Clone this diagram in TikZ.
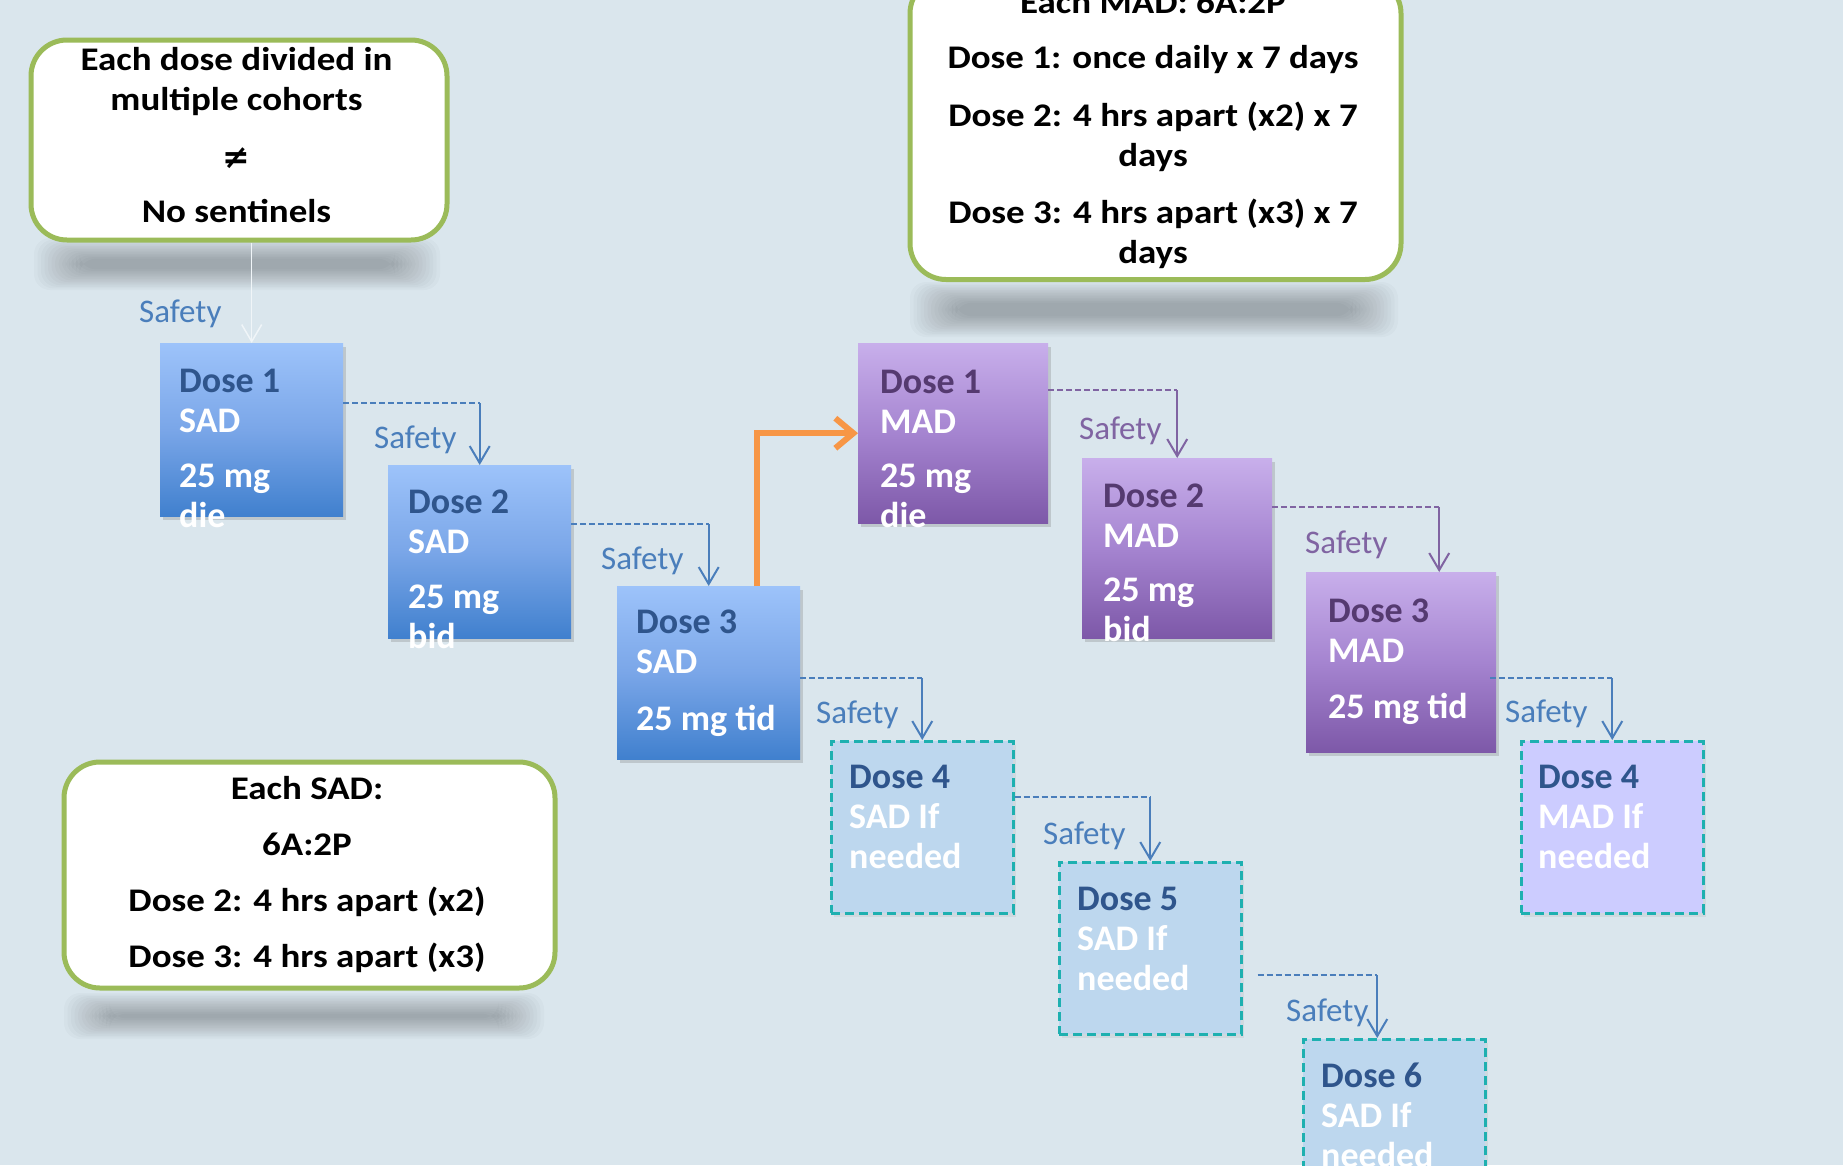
\documentclass[tikz,border=0pt]{standalone}
\usepackage{fontspec}
\setmainfont{Carlito}
\newfontfamily\notefont{Carlito}[FakeStretch=1.12]
\newfontfamily\symbfont{DejaVu Sans}
\usetikzlibrary{arrows.meta,shadows,calc}
\definecolor{bgc}{RGB}{218,230,237}
\definecolor{grn}{RGB}{155,187,89}
\definecolor{sadtop}{RGB}{157,195,250}
\definecolor{sadmid}{RGB}{122,166,232}
\definecolor{sadbot}{RGB}{64,128,206}
\definecolor{madtop}{RGB}{200,175,235}
\definecolor{madmid}{RGB}{165,132,208}
\definecolor{madbot}{RGB}{125,88,168}
\definecolor{sadd}{RGB}{47,85,140}
\definecolor{madd}{RGB}{85,58,112}
\definecolor{linkb}{RGB}{74,126,187}
\definecolor{linkp}{RGB}{128,100,162}
\definecolor{tealb}{RGB}{30,176,176}
\definecolor{ifsad}{RGB}{189,215,238}
\definecolor{ifmad}{RGB}{204,204,255}
\definecolor{orng}{RGB}{247,150,70}
\newcommand\nls{\baselineskip=40pt\lineskiplimit=-200pt\lineskip=0pt}
\newcommand\dl[1]{\hbox{#1}}
\newcommand\cln[1]{\hbox to 0pt{\hss#1\hss}}
\newcommand\notesh[4]{%
  \foreach \i in {0,...,13}
    \fill[black,opacity=0.018,rounded corners=16pt]
      ({#1-8+3.5*\i},{#2-5+1.6*\i}) rectangle ({#3+8-3.5*\i},{#4+5-1.6*\i});}
\tikzset{
  sadbox/.style={rectangle,anchor=north west,minimum width=183pt,minimum height=173pt,inner sep=0pt,
    top color=sadtop,bottom color=sadbot,middle color=sadmid,
    drop shadow={shadow xshift=3pt,shadow yshift=-4pt,opacity=.3}},
  madbox/.style={rectangle,anchor=north west,minimum width=190pt,minimum height=180pt,inner sep=0pt,
    top color=madtop,bottom color=madbot,middle color=madmid,
    drop shadow={shadow xshift=3pt,shadow yshift=-4pt,opacity=.3}},
  ifbox/.style={rectangle,anchor=north west,minimum width=182pt,minimum height=172pt,inner sep=0pt,
    draw=tealb,line width=2.5pt,dash pattern=on 9pt off 5pt,
    drop shadow={shadow xshift=3pt,shadow yshift=-4pt,opacity=.12}},
  sadif/.style={ifbox,fill=ifsad},
  madif/.style={ifbox,fill=ifmad},
  notebox/.style={rectangle,rounded corners=36pt,draw=grn,line width=5pt,fill=white,anchor=north west,inner sep=0pt},
  dtxt/.style={anchor=base west,inner sep=0pt,text=white,font=\fontsize{36}{40}\selectfont\bfseries},
  ntxt/.style={anchor=base,inner sep=0pt,text=black,font=\notefont\fontsize{33}{40}\selectfont\bfseries},
  safe/.style={anchor=base west,inner sep=0pt,font=\fontsize{33}{40}\selectfont},
  ldash/.style={line width=2pt,dash pattern=on 6pt off 3pt},
  larrow/.style={line width=2pt,-{Straight Barb[length=17pt,width=20pt]}},
}
\begin{document}
\begin{tikzpicture}[x=1pt,y=-1pt]
\useasboundingbox (0,0) rectangle (1843,1165);
\clip (0,0) rectangle (1843,1165);
\fill[bgc] (0,0) rectangle (1843,1165);

% note shadows
\notesh{42}{243}{432}{285}
\notesh{918}{287}{1390}{332}
\notesh{72}{998}{536}{1034}

% notes
\node[notebox,minimum width=416pt,minimum height=200pt] (n1) at (28.5,37.5) {};
\node[notebox,minimum width=491pt,minimum height=302pt] (n2) at (907.5,-25) {};
\node[notebox,minimum width=491pt,minimum height=226pt] (n3) at (61.5,759.5) {};

\node[ntxt] (tn1) at (236.5,70) {\vtop{\nls\cln{Each dose divided in}\cln{multiple cohorts}\vskip18pt\cln{\symbfont ≠}\vskip14pt\cln{No sentinels}}};
\node[ntxt] (tn2) at (1153,13) {\vtop{\nls\cln{Each MAD: 6A:2P}\vskip15pt\cln{Dose 1: once daily x 7 days}\vskip18pt\cln{Dose 2: 4 hrs apart (x2) x 7}\cln{days}\vskip17pt\cln{Dose 3: 4 hrs apart (x3) x 7}\cln{days}}};
\node[ntxt] (tn3) at (307,799) {\vtop{\nls\cln{Each SAD:}\vskip16pt\cln{6A:2P}\vskip16pt\cln{Dose 2: 4 hrs apart (x2)}\vskip16pt\cln{Dose 3: 4 hrs apart (x3)}}};

% dose boxes
\node[sadbox] (s1) at (160,343) {};
\node[sadbox] (s2) at (388,465) {};
\node[sadbox] (s3) at (617,586) {};
\node[madbox] (m1) at (858,343) {};
\node[madbox] (m2) at (1082,458) {};
\node[madbox] (m3) at (1306,572) {};
\node[sadif] (d4) at (830,740) {};
\node[sadif] (d5) at (1058,861) {};
\node[sadif] (d6) at (1302,1038) {};
\node[madif] (dm4) at (1520,740) {};

% connectors
\draw[line width=1.5pt,draw=white!60!bgc,-{Straight Barb[length=17pt,width=20pt]}] (s1.north |- n1.south) -- (s1.north);

\coordinate (a12) at ($(s1.north east)+(0,60)$);
\draw[ldash,linkb] (a12) -- (a12 -| s2.north);
\draw[larrow,linkb] (a12 -| s2.north) -- (s2.north);

\coordinate (a23) at ($(s2.north east)+(0,59)$);
\draw[ldash,linkb] (a23) -- (a23 -| s3.north);
\draw[larrow,linkb] (a23 -| s3.north) -- (s3.north);

\coordinate (a34) at ($(s3.north east)+(0,92)$);
\draw[ldash,linkb] (a34) -- (a34 -| d4.north);
\draw[larrow,linkb] (a34 -| d4.north) -- (d4.north);

\coordinate (a45) at ($(d4.north east)+(0,57)$);
\draw[ldash,linkb] (a45) -- (a45 -| d5.north);
\draw[larrow,linkb] (a45 -| d5.north) -- (d5.north);

\coordinate (a56) at ($(d5.north east)+(15,114)$);
\coordinate (t56) at ($(d6.north)+(-17,0)$);
\draw[ldash,linkb] (a56) -- (a56 -| t56);
\draw[larrow,linkb] (a56 -| t56) -- (t56);

\coordinate (b12) at ($(m1.north east)+(0,47)$);
\draw[ldash,linkp] (b12) -- (b12 -| m2.north);
\draw[larrow,linkp] (b12 -| m2.north) -- (m2.north);

\coordinate (b23) at ($(m2.north east)+(0,49)$);
\coordinate (tm3) at ($(m3.north)+(38,0)$);
\draw[ldash,linkp] (b23) -- (b23 -| tm3);
\draw[larrow,linkp] (b23 -| tm3) -- (tm3);

\coordinate (b34) at ($(m3.north east)+(-6,106)$);
\draw[ldash,linkb] (b34) -- (b34 -| dm4.north);
\draw[larrow,linkb] (b34 -| dm4.north) -- (dm4.north);

\draw[orng,line width=6pt,-{Straight Barb[length=18pt,width=30pt]}] ($(s3.north west)+(140,0)$) |- (m1.west);

% safety labels
\node[safe,text=linkb] (l0) at (139,322) {Safety};
\node[safe,text=linkb] (l1) at (374,448) {Safety};
\node[safe,text=linkb] (l2) at (601,569) {Safety};
\node[safe,text=linkb] (l3) at (816,723) {Safety};
\node[safe,text=linkb] (l4) at (1043,844) {Safety};
\node[safe,text=linkb] (l5) at (1286,1021) {Safety};
\node[safe,text=linkp] (l6) at (1079,439) {Safety};
\node[safe,text=linkp] (l7) at (1305,553) {Safety};
\node[safe,text=linkb] (l8) at (1505,722) {Safety};

% dose texts
\node[dtxt] (ts1) at ($(s1.north west)+(19,49)$) {\vtop{\nls\dl{\color{sadd}Dose 1}\dl{SAD}\vskip15pt\dl{25 mg}\dl{die}}};
\node[dtxt] (ts2) at ($(s2.north west)+(20,48)$) {\vtop{\nls\dl{\color{sadd}Dose 2}\dl{SAD}\vskip15pt\dl{25 mg}\dl{bid}}};
\node[dtxt] (ts3) at ($(s3.north west)+(19,47)$) {\vtop{\nls\dl{\color{sadd}Dose 3}\dl{SAD}\vskip17pt\dl{25 mg tid}}};
\node[dtxt] (tm1) at ($(m1.north west)+(22,50)$) {\vtop{\nls\dl{\color{madd}Dose 1}\dl{MAD}\vskip14pt\dl{25 mg}\dl{die}}};
\node[dtxt] (tm2) at ($(m2.north west)+(21,49)$) {\vtop{\nls\dl{\color{madd}Dose 2}\dl{MAD}\vskip14pt\dl{25 mg}\dl{bid}}};
\node[dtxt] (tm3t) at ($(m3.north west)+(22,50)$) {\vtop{\nls\dl{\color{madd}Dose 3}\dl{MAD}\vskip16pt\dl{25 mg tid}}};
\node[dtxt] (td4) at ($(d4.north west)+(19,48)$) {\vtop{\nls\dl{\color{sadd}Dose 4}\dl{SAD If}\dl{needed}}};
\node[dtxt] (td5) at ($(d5.north west)+(19,49)$) {\vtop{\nls\dl{\color{sadd}Dose 5}\dl{SAD If}\dl{needed}}};
\node[dtxt] (td6) at ($(d6.north west)+(19,49)$) {\vtop{\nls\dl{\color{sadd}Dose 6}\dl{SAD If}\dl{needed}}};
\node[dtxt] (tdm4) at ($(dm4.north west)+(18,48)$) {\vtop{\nls\dl{\color{sadd}Dose 4}\dl{MAD If}\dl{needed}}};
\end{tikzpicture}
\end{document}
